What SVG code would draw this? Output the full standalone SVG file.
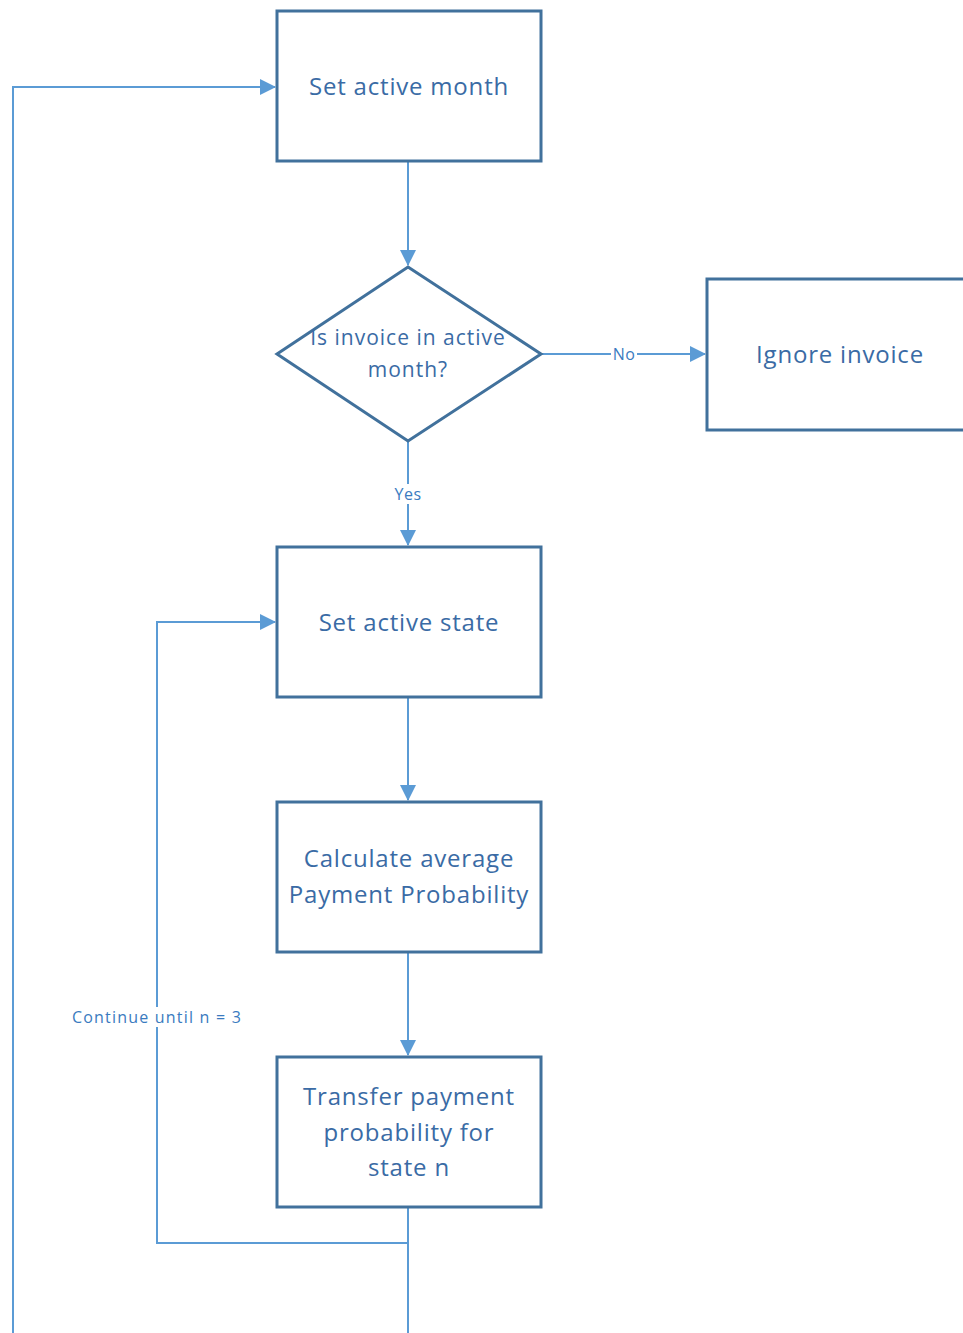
<svg xmlns="http://www.w3.org/2000/svg" width="963" height="1333" viewBox="0 0 963 1333">
<style>
.box{fill:#fff;stroke:#41719C;stroke-width:3}
.t{font-family:"Open Sans","Liberation Sans",sans-serif;font-size:24px;letter-spacing:0.8px;fill:#3A6BA5;text-anchor:middle}
.c{fill:none;stroke:#5B9BD5;stroke-width:2}
.lbl{font-family:"Open Sans","Liberation Sans",sans-serif;font-size:16px;letter-spacing:0.5px;fill:#3A7BC0;text-anchor:middle}
</style>
<defs>
<marker id="ah" markerWidth="16" markerHeight="16" refX="15" refY="8" orient="auto" markerUnits="userSpaceOnUse" viewBox="0 0 16 16">
<path d="M0,0 L16,8 L0,16 Z" fill="#5B9BD5"/>
</marker>
</defs>
<rect width="963" height="1333" fill="#fff"/>
<g id="connectors">
<path class="c" d="M408,161 V265" marker-end="url(#ah)"/>
<path class="c" d="M541,354 H705" marker-end="url(#ah)"/>
<path class="c" d="M408,441 V545" marker-end="url(#ah)"/>
<path class="c" d="M408,697 V800" marker-end="url(#ah)"/>
<path class="c" d="M408,952 V1055" marker-end="url(#ah)"/>
<path class="c" d="M408,1207 V1333"/>
<path class="c" d="M408,1243 H157 V622 H275" marker-end="url(#ah)"/>
<path class="c" d="M13,1333 V87 H275" marker-end="url(#ah)"/>
<rect x="611" y="345" width="26" height="18" fill="#fff"/>
<text class="lbl" x="624" y="360">No</text>
<rect x="392" y="484" width="32" height="20" fill="#fff"/>
<text class="lbl" x="408" y="500">Yes</text>
<rect x="70" y="1007" width="174" height="20" fill="#fff"/>
<text class="lbl" x="157" y="1023" style="letter-spacing:1.2px">Continue until n = 3</text>
</g>
<g id="n1"><rect class="box" x="277" y="11" width="264" height="150"/><text class="t" x="409" y="95">Set active month</text></g>
<g id="n2"><polygon class="box" points="408,267 541,354 408,441 277,354"/><text class="t" x="408" y="345" style="font-size:21px;letter-spacing:1px">Is invoice in active</text><text class="t" x="408" y="377" style="font-size:21px;letter-spacing:1px">month?</text></g>
<g id="n3"><rect class="box" x="707" y="279" width="270" height="151"/><text class="t" x="840" y="363">Ignore invoice</text></g>
<g id="n4"><rect class="box" x="277" y="547" width="264" height="150"/><text class="t" x="409" y="631">Set active state</text></g>
<g id="n5"><rect class="box" x="277" y="802" width="264" height="150"/><text class="t" x="409" y="867">Calculate average</text><text class="t" x="409" y="903">Payment Probability</text></g>
<g id="n6"><rect class="box" x="277" y="1057" width="264" height="150"/><text class="t" x="409" y="1105">Transfer payment</text><text class="t" x="409" y="1141">probability for</text><text class="t" x="409" y="1176">state n</text></g>
</svg>
